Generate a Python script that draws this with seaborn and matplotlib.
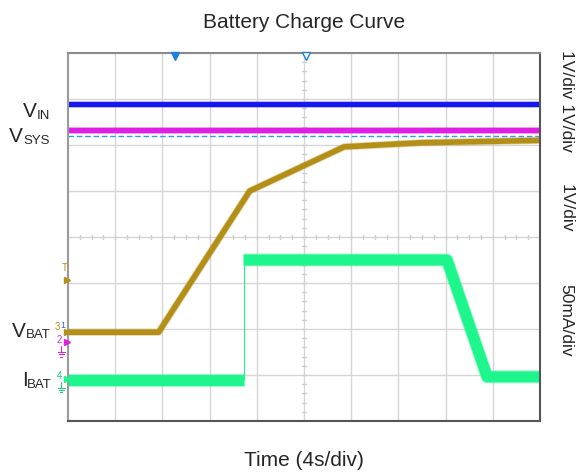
import numpy as np
import pandas as pd
import matplotlib
matplotlib.use("Agg")
import matplotlib.pyplot as plt
import seaborn as sns

# ---------------- data (read from the scope shot, in divisions) ----------------
vin_t = [0.0, 10.0]
vin_v = [6.89, 6.89]

vsys_t = [0.0, 10.0]
vsys_v = [6.32, 6.32]

vref_t = [0.0, 10.0]
vref_v = [6.19, 6.19]

vbat_t = [0.0, 1.92, 3.85, 5.85, 7.5, 10.0]
vbat_v = [1.93, 1.93, 5.00, 5.96, 6.05, 6.10]

ibat_lo_t = [0.0, 3.72]
ibat_lo_v = [0.89, 0.89]
ibat_hi_t = [3.72, 8.03, 8.88, 10.0]
ibat_hi_v = [3.50, 3.50, 0.96, 0.96]

title = "Battery Charge Curve"
xlabel = "Time (4s/div)"
scale_labels = ["1V/div 1V/div", "1V/div", "50mA/div"]

BLUE = "#1616EE"
MAGENTA = "#E11EE3"
CYAN = "#2E9BF0"
GOLD = "#B38F18"
GREEN = "#1EF58C"

W, H = 581, 473

sns.set_style("white")
plt.rcParams["font.family"] = ["Liberation Sans", "DejaVu Sans"]

fig = plt.figure(figsize=(W / 100, H / 100), dpi=100)
ax = fig.add_axes([68 / W, 52 / H, 472 / W, 368 / H])
ax.set_xlim(0, 10)
ax.set_ylim(0, 8)

# graticule
for xg in range(1, 10):
    ax.axvline(xg, color="#d6d6d6", lw=1.0, zorder=0)
for yg in range(1, 8):
    ax.axhline(yg, color="#d6d6d6", lw=1.0, zorder=0)
for xt in np.arange(0.25, 10, 0.25):
    ax.plot([xt, xt], [3.95, 4.05], color="#cfcfcf", lw=1.0, zorder=0)
for yt in np.arange(0.2, 8, 0.2):
    ax.plot([4.95, 5.05], [yt, yt], color="#cfcfcf", lw=1.0, zorder=0)

ax.set_xticks([])
ax.set_yticks([])
for side, sp in ax.spines.items():
    sp.set_visible(True)
    sp.set_linewidth(1.5)
ax.spines["left"].set_color("#9a9a9a")
ax.spines["top"].set_color("#8a8a8a")
ax.spines["right"].set_color("#555555")
ax.spines["bottom"].set_color("#555555")


def trace(t, v, color, lw, halo=0.0, **kw):
    df = pd.DataFrame({"t": t, "v": v})
    if halo:
        sns.lineplot(data=df, x="t", y="v", ax=ax, color=color, lw=lw + halo,
                     alpha=0.35, sort=False, estimator=None,
                     solid_capstyle="butt", **kw)
    sns.lineplot(data=df, x="t", y="v", ax=ax, color=color, lw=lw,
                 sort=False, estimator=None, solid_capstyle="butt", **kw)


trace(vin_t, vin_v, BLUE, 3.6, halo=1.2)
trace(vsys_t, vsys_v, MAGENTA, 3.8, halo=1.2)
trace(vref_t, vref_v, CYAN, 1.0, linestyle=(0, (4, 2)))
trace(vbat_t, vbat_v, GOLD, 4.0, halo=1.2)
trace(ibat_lo_t, ibat_lo_v, GREEN, 8.0, halo=1.5)
trace(ibat_hi_t, ibat_hi_v, GREEN, 8.0, halo=1.5)
# fast current step (thin edge)
trace([ibat_lo_t[-1], ibat_hi_t[0]], [ibat_lo_v[-1], ibat_hi_v[0]], GREEN, 0.8)
ax.set_xlabel("")
ax.set_ylabel("")

# top markers (trigger position / delay)
ax.plot([2.26], [7.94], marker="v", color="#1E7FE0", ms=6, clip_on=False, zorder=5)
ax.plot([5.04], [7.94], marker="v", mfc="white", mec="#1E7FE0", ms=6, mew=1.0,
        clip_on=False, zorder=5)

# trigger level marker
ax.plot([-0.02], [3.07], marker=">", color=GOLD, ms=5, clip_on=False, zorder=5)
ax.text(-0.06, 3.33, "T", color=GOLD, fontsize=7, ha="center", va="center")


def ground(x, y, color):
    # small ground symbol drawn as lines (axes data coords)
    ax.plot([x, x], [y, y - 0.12], color=color, lw=0.8, clip_on=False)
    ax.plot([x - 0.07, x + 0.07], [y - 0.12, y - 0.12], color=color, lw=0.8, clip_on=False)
    ax.plot([x - 0.045, x + 0.045], [y - 0.17, y - 0.17], color=color, lw=0.8, clip_on=False)
    ax.plot([x - 0.02, x + 0.02], [y - 0.22, y - 0.22], color=color, lw=0.8, clip_on=False)


# channel markers
ax.plot([-0.02], [1.93], marker=">", color=GOLD, ms=5, clip_on=False, zorder=5)
ax.text(-0.23, 2.04, "3", color=GOLD, fontsize=7, ha="center", va="center")
ax.text(-0.10, 2.08, "1", color="#3060E0", fontsize=6.5, ha="center", va="center")
ax.plot([-0.02], [1.72], marker=">", color=MAGENTA, ms=5, clip_on=False, zorder=5)
ax.text(-0.19, 1.76, "2", color=MAGENTA, fontsize=7, ha="center", va="center")
ground(-0.14, 1.62, MAGENTA)
ax.plot([-0.02], [0.92], marker=">", color=GREEN, ms=5, clip_on=False, zorder=5)
ax.text(-0.19, 0.97, "4", color="#22C87A", fontsize=7, ha="center", va="center")
ground(-0.14, 0.84, "#22C87A")


def ftext(x, y, s, **kw):
    fig.text(x / W, 1 - y / H, s, **kw)


ftext(304, 28, title, fontsize=15, ha="center", va="baseline")
ftext(304, 466, xlabel, fontsize=15, ha="center", va="baseline")

# channel names with subscripts
big, small = 15, 9.5
for main, sub, xm, xs, yb in [("V", "IN", 23, 37, 117),
                              ("V", "SYS", 9, 23, 142),
                              ("V", "BAT", 12, 26, 337),
                              ("I", "BAT", 22, 27, 386)]:
    ftext(xm, yb, main, fontsize=big, ha="left", va="baseline")
    ftext(xs, yb + 1.5, sub, fontsize=small, ha="left", va="baseline")

# vertical scale labels on right
for lab, yc in zip(scale_labels, [101, 208, 320]):
    ftext(566, yc, lab, fontsize=12.5, rotation=270, ha="center", va="center")

fig.savefig("out.png", dpi=100)
